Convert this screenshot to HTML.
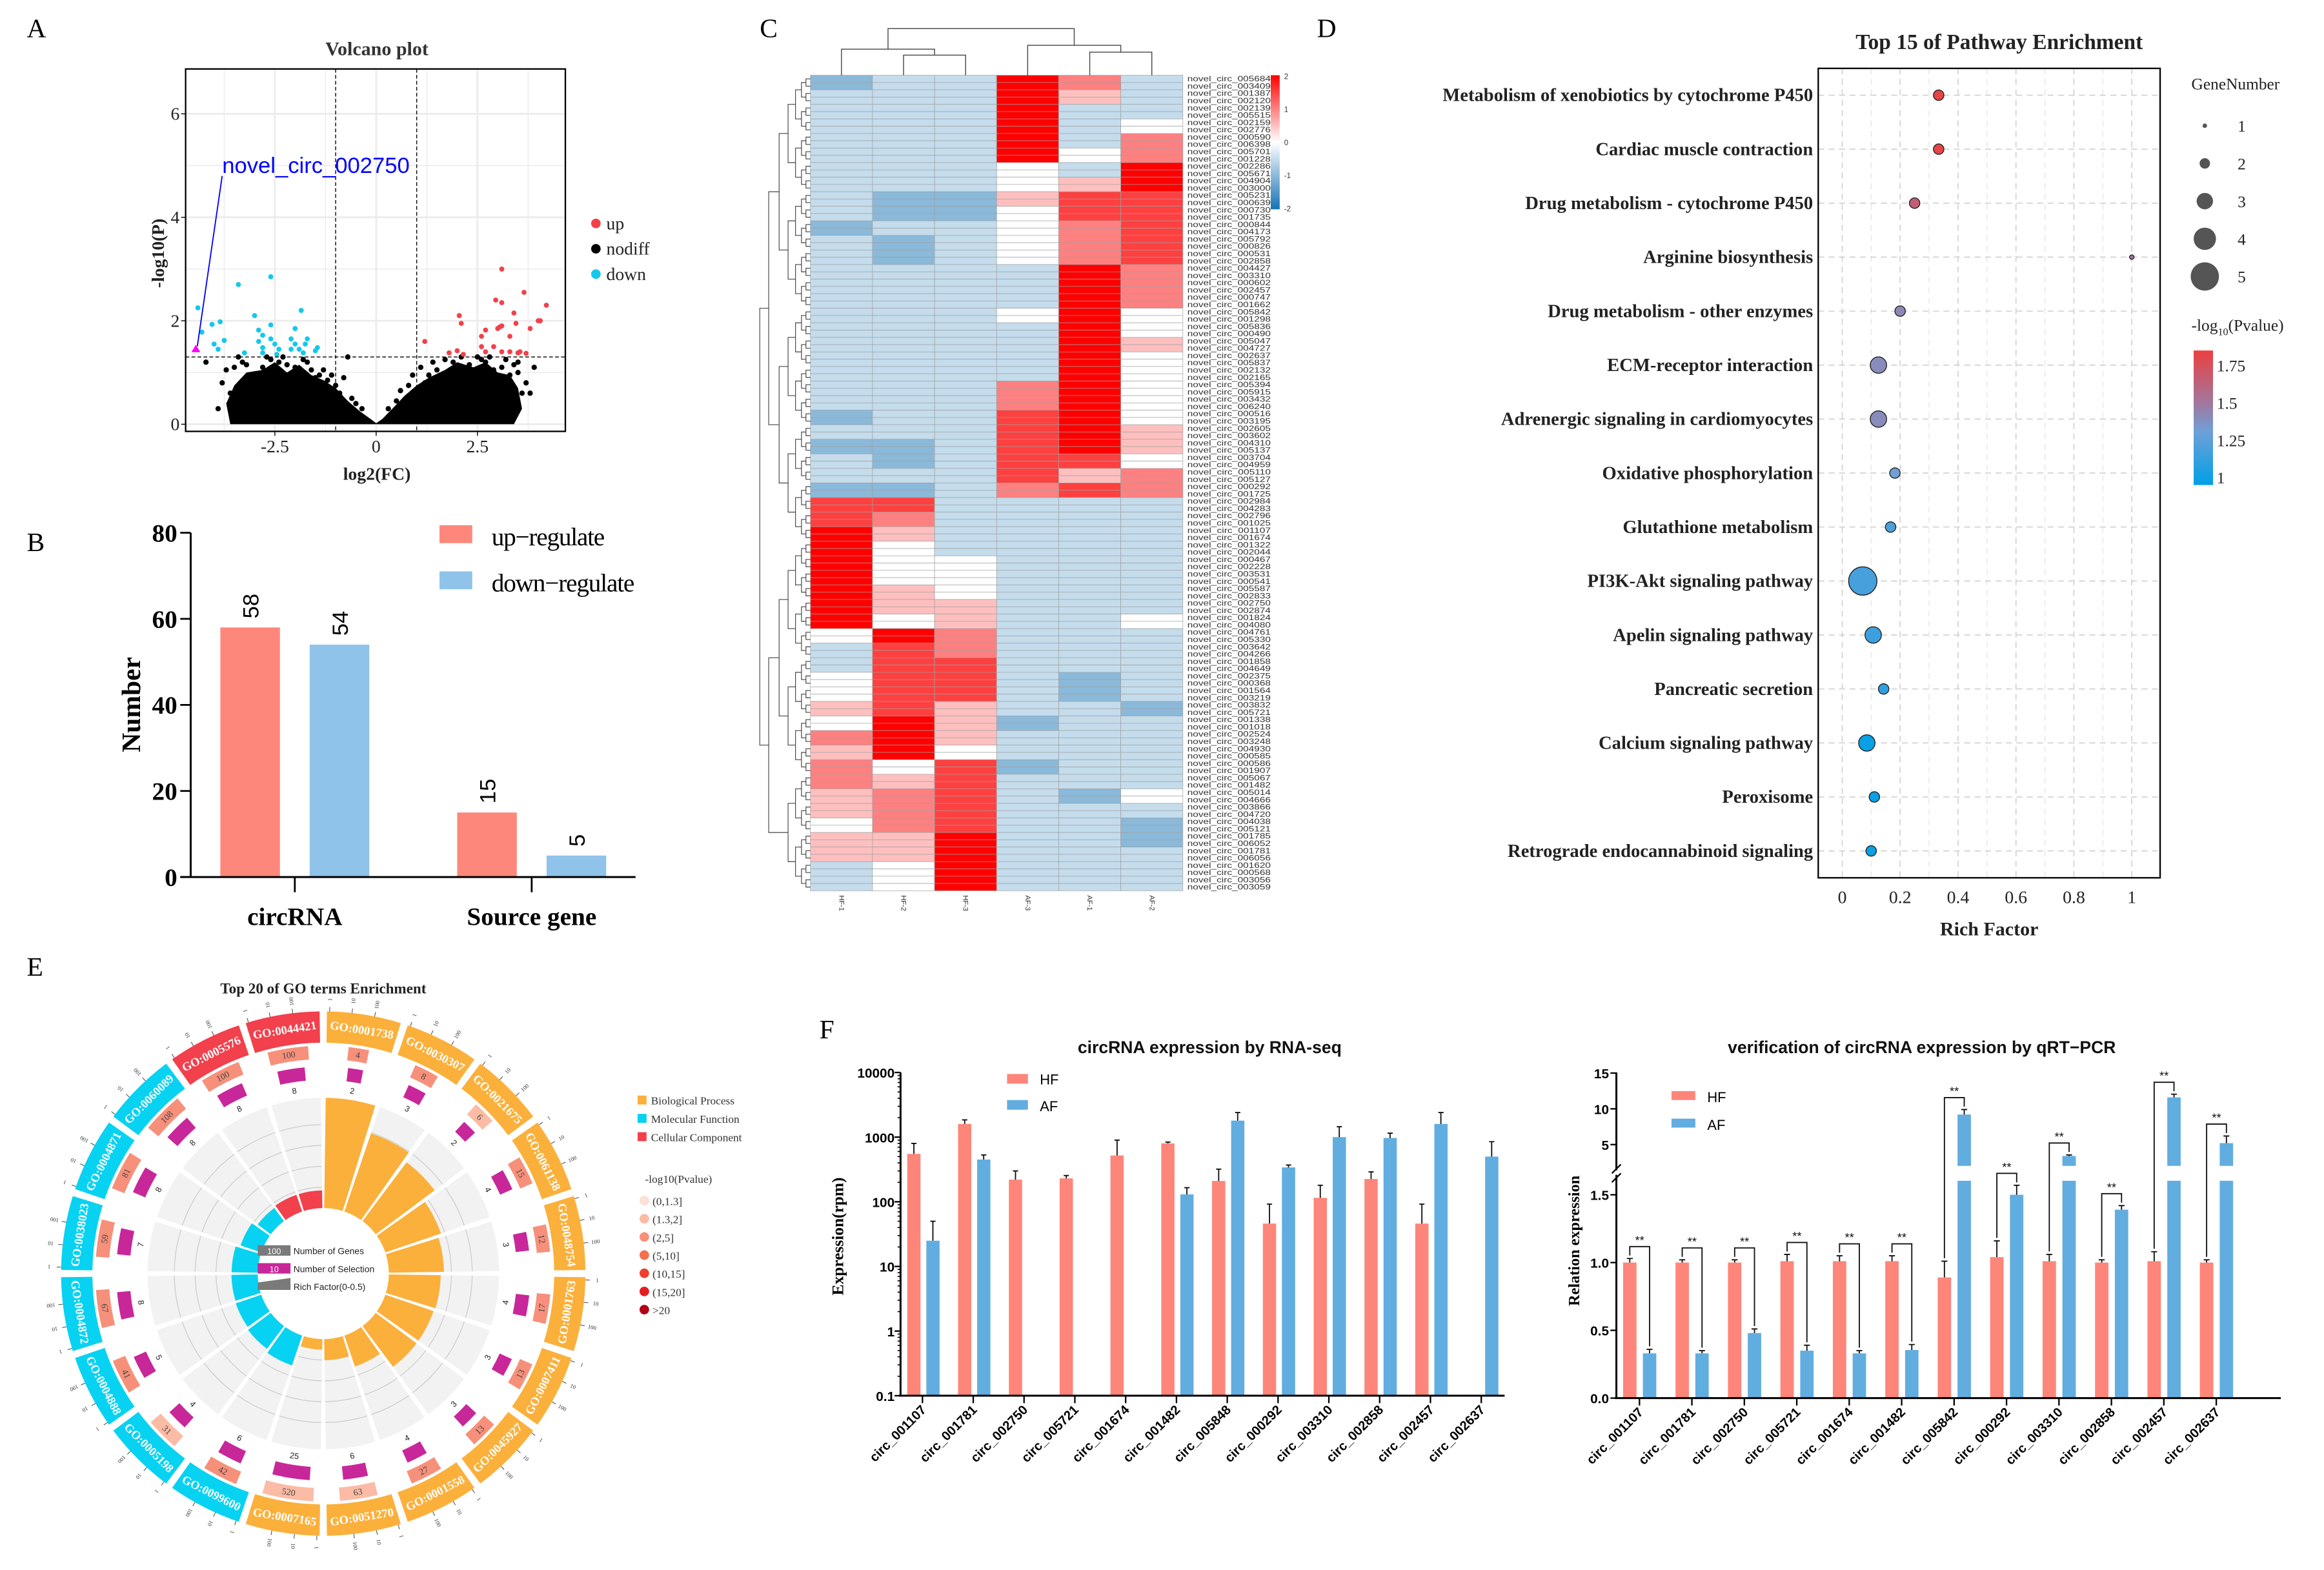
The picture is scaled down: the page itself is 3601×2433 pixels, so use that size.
<!DOCTYPE html>
<html><head><meta charset="utf-8"><title>circRNA figure</title>
<style>
html,body{margin:0;padding:0;background:#fff;}
svg{display:block;}
.serif{font-family:"Liberation Serif",serif;}
.sans{font-family:"Liberation Sans",sans-serif;}
</style></head>
<body>
<svg id="fig" xmlns="http://www.w3.org/2000/svg" width="3601" height="2433" viewBox="0 0 1560 1054">
<rect x="0" y="0" width="1560" height="1054" fill="#fff"/>
<g class="serif" font-size="18" fill="#000">
<text x="18" y="25">A</text>
<text x="18" y="370">B</text>
<text x="510" y="25">C</text>
<text x="884" y="25">D</text>
<text x="18" y="655">E</text>
<text x="550" y="697">F</text>
</g>
<text x="253" y="37" class="serif" font-size="13" font-weight="bold" fill="#333" text-anchor="middle">Volcano plot</text>
<text x="1342" y="33" class="serif" font-size="14.5" font-weight="bold" fill="#222" text-anchor="middle">Top 15 of Pathway Enrichment</text>
<text x="217" y="667" class="serif" font-size="10" font-weight="bold" fill="#222" text-anchor="middle">Top 20 of GO terms Enrichment</text>
<text x="812" y="707" class="sans" font-size="11.5" font-weight="bold" fill="#111" text-anchor="middle">circRNA expression by RNA-seq</text>
<text x="1290" y="707" class="sans" font-size="11.5" font-weight="bold" fill="#111" text-anchor="middle">verification of circRNA expression by qRT−PCR</text>
<g id="gA"></g><g id="gB"></g><g id="gC"></g><g id="gD"></g><g id="gE"></g><g id="gF1"></g><g id="gF2"></g>
</svg>
<script>
// ---------- DATA ----------
const upPts=[[1.2,1.6],[1.8,1.38],[2.0,1.42],[2.05,2.1],[2.1,1.95],[2.15,1.35],[2.6,1.7],[2.6,1.5],[2.7,1.82],[2.7,1.4],[2.9,1.5],[2.95,2.4],[3.0,1.85],[3.05,1.88],[3.1,1.9],[3.1,1.4],[3.1,3.0],[3.1,2.35],[3.3,1.7],[3.3,1.4],[3.4,2.15],[3.45,1.95],[3.5,1.38],[3.55,1.4],[3.65,2.55],[3.7,1.37],[3.8,1.85],[4.0,2.0],[4.05,2.0],[4.2,2.3]];
const downPts=[[-4.4,2.25],[-4.3,1.78],[-4.05,1.93],[-4.0,1.55],[-3.9,1.45],[-3.85,1.98],[-3.75,1.62],[-3.4,2.7],[-3.25,1.38],[-3.0,2.1],[-2.9,1.82],[-2.9,1.6],[-2.8,1.72],[-2.8,1.48],[-2.8,1.38],[-2.6,1.65],[-2.6,1.92],[-2.5,1.55],[-2.45,1.35],[-2.4,1.45],[-2.6,2.85],[-2.1,1.65],[-2.1,1.45],[-2.0,1.85],[-2.0,1.55],[-1.9,1.45],[-1.85,2.2],[-1.8,1.38],[-1.75,1.55],[-1.7,1.65],[-1.5,1.42],[-1.45,1.48]];
const hiPt=[-4.45,1.45];
const nodiffPts=[[-4.2,1.2],[-3.7,1.05],[-3.5,1.1],[-3.4,1.3],[-3.2,1.15],[-3.0,0.95],[-2.8,1.1],[-2.6,1.25],[-2.4,1.2],[-2.2,1.15],[-2.0,1.1],[-1.8,1.25],[-1.6,1.05],[-1.4,0.95],[-1.2,0.85],[-1.0,0.75],[-0.7,1.3],[-0.5,0.4],[-3.6,0.6],[-3.4,0.5],[-3.0,0.3],[0.3,0.3],[0.8,0.75],[1.1,1.1],[1.3,0.95],[1.5,1.05],[1.7,1.25],[1.9,1.2],[2.1,1.3],[2.3,1.15],[2.5,1.3],[2.7,1.2],[2.9,1.05],[3.1,1.1],[3.3,0.95],[3.5,1.0],[3.5,1.2],[3.7,0.8],[3.6,0.6],[3.4,0.5],[1.6,0.5],[-1.6,0.6],[-2.2,0.7],[2.2,0.75],[-3.3,1.2],[-3.1,0.8],[-2.7,1.3],[-2.5,1.0],[-2.3,1.3],[-1.9,1.0],[-1.7,1.2],[-1.5,0.9],[-1.3,1.05],[-1.1,0.95],[-0.9,0.6],[-0.6,0.5],[-0.35,0.3],[0.5,0.45],[0.6,0.65],[0.9,0.95],[1.2,0.8],[1.4,1.2],[1.8,1.0],[2.0,1.1],[2.4,1.0],[2.6,1.25],[2.8,1.3],[3.2,1.25],[3.4,1.15],[3.8,0.6],[3.9,1.1],[-3.8,0.8],[-3.9,0.3],[-0.8,0.9]];
const cloudPoly=[[-3.6,0],[-3.7,0.4],[-3.5,0.75],[-3.2,1.0],[-2.8,1.05],[-2.5,1.2],[-2.2,1.0],[-1.9,1.15],[-1.6,0.95],[-1.3,0.85],[-1.0,0.7],[-0.7,0.45],[-0.4,0.25],[-0.1,0.08],[0,0.02],[0.15,0.1],[0.4,0.3],[0.7,0.55],[1.0,0.75],[1.3,0.9],[1.7,1.05],[2.0,1.2],[2.4,1.1],[2.7,1.2],[3.0,1.0],[3.3,0.95],[3.5,0.7],[3.6,0.3],[3.4,0]];
const volXTicks=[-2.5,0,2.5];
const volYTicks=[0,2,4,6];
const barCats=["circRNA","Source gene"];
const barUp=[58,15];
const barDown=[54,5];
const barYTicks=[0,20,40,60,80];
const hmCols=["HF-1","HF-2","HF-3","AF-3","AF-1","AF-2"];
const hmRows=["233863","333853","333833","333834","333836","333846","333438","333458","322577","322477","233467","323467","323467","333386","333386","333386","333484","333384","333385","333384","333384","333684","333684","233784","333785","223785","323774","333756","223676","773333","763333","853333","843333","844333","844333","854333","855333","845334","486333","376333","377333","477323","477323","575332","485233","685333","584333","647233","657333","567324","567333","467332","558332","558333","348333","348333"];
const hmLabels=["005684","003409","001387","002120","002139","005515","002159","002776","000590","006398","005701","001228","002286","005671","004904","003000","005231","000639","000730","001735","000844","004173","005792","000826","000531","002858","004427","003310","000602","002457","000747","001662","005842","001298","005836","000490","005047","004727","002637","005837","002132","002165","005394","005915","003432","006240","000516","003195","002605","003602","004310","005137","003704","004959","005110","005127","000292","001725","002984","004283","002796","001025","001107","001674","001322","002044","000467","002228","003531","000541","005587","002833","002750","002874","001824","004080","004761","005330","003642","004266","001858","004649","002375","000368","001564","003219","003832","005721","001338","001018","002524","003248","004930","000585","000586","001907","005067","001482","005014","004666","003866","004720","004038","005121","001785","006052","001781","006056","001620","000568","003056","003059"];
const hmScale=[2,1,0,-1,-2];
const pwNames=["Metabolism of xenobiotics by cytochrome P450","Cardiac muscle contraction","Drug metabolism - cytochrome P450","Arginine biosynthesis","Drug metabolism - other enzymes","ECM-receptor interaction","Adrenergic signaling in cardiomyocytes","Oxidative phosphorylation","Glutathione metabolism","PI3K-Akt signaling pathway","Apelin signaling pathway","Pancreatic secretion","Calcium signaling pathway","Peroxisome","Retrograde endocannabinoid signaling"];
const pwRich=[0.333,0.333,0.25,1.0,0.2,0.125,0.125,0.182,0.167,0.071,0.107,0.143,0.085,0.111,0.1];
const pwGenes=[2,2,2,1,2,3,3,2,2,5,3,2,3,2,2];
const pwLogP=[1.82,1.82,1.65,1.5,1.42,1.4,1.4,1.32,1.2,1.18,1.15,1.1,0.98,0.98,0.98];
const pwXTicks=[0,0.2,0.4,0.6,0.8,1];
const pwSizeLegend=[1,2,3,4,5];
const pwColorTicks=[1.75,1.5,1.25,1];
const goIds=["GO:0001738","GO:0030307","GO:0021675","GO:0061138","GO:0048754","GO:0001763","GO:0007411","GO:0045927","GO:0001558","GO:0051270","GO:0007165","GO:0099600","GO:0005198","GO:0004888","GO:0004872","GO:0038023","GO:0004871","GO:0060089","GO:0005576","GO:0044421"];
const goCat=["BP","BP","BP","BP","BP","BP","BP","BP","BP","BP","BP","MF","MF","MF","MF","MF","MF","MF","CC","CC"];
const goGenes=[4,8,6,15,12,17,13,13,27,63,520,42,31,41,67,59,81,108,100,100];
const goSel=[2,3,2,4,3,4,3,3,4,6,25,6,4,5,8,7,8,8,8,8];
const goPbin=[2,2,1,2,2,2,2,2,2,1,1,2,1,2,2,2,2,2,2,2];
const goPLegend=["(0,1.3]","(1.3,2]","(2,5]","(5,10]","(10,15]","(15,20]",">20"];
const goCatLegend=["Biological Process","Molecular Function","Cellular Component"];
const fCats=["circ_001107","circ_001781","circ_002750","circ_005721","circ_001674","circ_001482","circ_005848","circ_000292","circ_003310","circ_002858","circ_002457","circ_002637"];
const seqHF=[550,1600,220,230,520,800,210,46,115,225,46,0];
const seqHFerr=[800,1850,300,255,900,840,320,92,180,290,92,0];
const seqAF=[25,450,0,0,0,130,1800,340,1000,970,1600,500];
const seqAFerr=[50,530,0,0,0,165,2400,370,1450,1150,2400,850];
const seqYTicks=[0.1,1,10,100,1000,10000];
const qCats=["circ_001107","circ_001781","circ_002750","circ_005721","circ_001674","circ_001482","circ_005842","circ_000292","circ_003310","circ_002858","circ_002457","circ_002637"];
const qHF=[1.0,1.0,1.0,1.01,1.01,1.01,0.89,1.04,1.01,1.0,1.01,1.0];
const qHFerr=[0.03,0.02,0.02,0.05,0.04,0.04,0.12,0.12,0.05,0.02,0.07,0.02];
const qAF=[0.33,0.33,0.48,0.35,0.33,0.355,9.2,1.5,3.4,1.39,11.6,5.2];
const qAFerr=[0.03,0.02,0.03,0.04,0.02,0.04,0.7,0.07,0.15,0.03,0.45,1.0];
const qYTicksLow=[0,0.5,1.0,1.5];
const qYTicksHigh=[5,10,15];

const NS='http://www.w3.org/2000/svg';
function mk(tag,attrs,parent,text){const e=document.createElementNS(NS,tag);for(const k in attrs)e.setAttribute(k,attrs[k]);if(text!==undefined)e.textContent=text;parent.appendChild(e);return e;}
const SERIF='"Liberation Serif",serif', SANS='"Liberation Sans",sans-serif';
let e;

// ---------- PANEL A ----------
(function(){
const g=document.getElementById('gA');
const xA=v=>252.5+v*27.2, yA=v=>284.8-v*34.73;
const L=124.6,R=379.5,T=46.3,B=289.6;
for(let v=-3.75;v<=3.76;v+=1.25){const x=xA(v); if(x<L||x>R)continue;
 e=mk('line',{x1:x,y1:T,x2:x,y2:B,stroke:'#ebebeb','stroke-width':Math.abs(v%2.5)<0.01?1.2:0.6},g);
 }
for(let v=0;v<=6.6;v+=1){const y=yA(v);
 e=mk('line',{x1:L,y1:y,x2:R,y2:y,stroke:'#ebebeb','stroke-width':v%2==0?1.2:0.6},g);
 }
e=mk('polygon',{points:cloudPoly.map(p=>xA(p[0])+','+yA(p[1])).join(' '),fill:'#000'},g);

nodiffPts.forEach(p=>{e=mk('circle',{cx:xA(p[0]),cy:yA(p[1]),r:1.8,fill:'#000'},g);
 });
upPts.forEach(p=>{e=mk('circle',{cx:xA(p[0]),cy:yA(p[1]),r:1.7,fill:'#f2414b'},g);
 });
downPts.forEach(p=>{e=mk('circle',{cx:xA(p[0]),cy:yA(p[1]),r:1.7,fill:'#14c8ec'},g);
 });
[-1,1].forEach(v=>{e=mk('line',{x1:xA(v),y1:T,x2:xA(v),y2:B,stroke:'#000','stroke-width':0.6,'stroke-dasharray':'2.5,1.5'},g);
 });
e=mk('line',{x1:L,y1:yA(1.3),x2:R,y2:yA(1.3),stroke:'#000','stroke-width':0.6,'stroke-dasharray':'2.5,1.5'},g);

const hx=xA(hiPt[0]),hy=yA(hiPt[1]);
e=mk('polygon',{points:`${hx},${hy-3} ${hx-3},${hy+2} ${hx+3},${hy+2}`,fill:'#ff00ff'},g);

e=mk('line',{x1:hx+1,y1:hy-2,x2:xA(-3.8),y2:yA(4.8),stroke:'#0000ff','stroke-width':0.8},g);

e=mk('text',{x:xA(-3.8),y:yA(4.8)-2,'font-family':'"Liberation Sans",sans-serif','font-size':15,fill:'#0000ff'},g,'novel_circ_002750');

e=mk('rect',{x:L,y:T,width:R-L,height:B-T,fill:'none',stroke:'#000','stroke-width':1},g);

volYTicks.forEach(v=>{e=mk('line',{x1:L-3,y1:yA(v),x2:L,y2:yA(v),stroke:'#000','stroke-width':0.6},g);
 
 e=mk('text',{x:L-4,y:yA(v)+4,'font-family':SERIF,'font-size':12,'text-anchor':'end',fill:'#222'},g,String(v));
 });
volXTicks.forEach(v=>{e=mk('line',{x1:xA(v),y1:B,x2:xA(v),y2:B+3,stroke:'#000','stroke-width':0.6},g);
 
 e=mk('text',{x:xA(v),y:B+14,'font-family':SERIF,'font-size':12,'text-anchor':'middle',fill:'#222'},g,String(v));
 });
e=mk('text',{x:253,y:322,'font-family':SERIF,'font-size':12,'font-weight':'bold','text-anchor':'middle',fill:'#222'},g,'log2(FC)');

e=mk('text',{x:0,y:0,'font-family':SERIF,'font-size':12,'font-weight':'bold','text-anchor':'middle',fill:'#222',transform:'translate(110,170) rotate(-90)'},g,'-log10(P)');

[['up','#f2414b'],['nodiff','#000'],['down','#14c8ec']].forEach((d,i)=>{
 e=mk('circle',{cx:400,cy:150+i*17,r:3.2,fill:d[1]},g);
 
 e=mk('text',{x:407,y:154+i*17,'font-family':SERIF,'font-size':12,fill:'#222'},g,d[0]);
 });
})();

// ---------- PANEL B ----------
(function(){
const g=document.getElementById('gB');
const yB=v=>588.8-v*2.889; const X0=128;
const catX=[197.9,356.9];
barCats.forEach((c,i)=>{
 e=mk('rect',{x:catX[i]-50,y:yB(barUp[i]),width:40,height:588.8-yB(barUp[i]),fill:'#fe877b'},g);
 
 e=mk('rect',{x:catX[i]+10,y:yB(barDown[i]),width:40,height:588.8-yB(barDown[i]),fill:'#8fc3ea'},g);
 
 [[catX[i]-30,barUp[i]],[catX[i]+30,barDown[i]]].forEach(p=>{
  e=mk('text',{x:0,y:0,'font-family':SANS,'font-size':15,'text-anchor':'start',fill:'#000',transform:`translate(${p[0]+5.5},${yB(p[1])-6}) rotate(-90)`},g,String(p[1]));
  });
 e=mk('line',{x1:catX[i],y1:588.8,x2:catX[i],y2:599,stroke:'#000','stroke-width':1.2},g);
 
 e=mk('text',{x:catX[i],y:621,'font-family':SERIF,'font-size':17,'font-weight':'bold','text-anchor':'middle',fill:'#000'},g,c);
 
});
e=mk('line',{x1:X0,y1:yB(80),x2:X0,y2:588.8,stroke:'#000','stroke-width':1.3},g);

e=mk('line',{x1:X0-7,y1:588.8,x2:426.6,y2:588.8,stroke:'#000','stroke-width':1.3},g);

barYTicks.forEach(v=>{e=mk('line',{x1:X0-7,y1:yB(v),x2:X0,y2:yB(v),stroke:'#000','stroke-width':1.2},g);
 
 e=mk('text',{x:X0-9,y:yB(v)+6,'font-family':SERIF,'font-size':17,'font-weight':'bold','text-anchor':'end',fill:'#000'},g,String(v));
 });
e=mk('text',{x:0,y:0,'font-family':SERIF,'font-size':18,'font-weight':'bold','text-anchor':'middle',fill:'#000',transform:'translate(94,473) rotate(-90)'},g,'Number');

e=mk('rect',{x:295,y:352.6,width:22,height:12,fill:'#fe877b'},g);

e=mk('text',{x:330,y:366,'font-family':SERIF,'font-size':17,fill:'#000','textLength':76},g,'up−regulate');

e=mk('rect',{x:295,y:383.6,width:22,height:12,fill:'#8fc3ea'},g);

e=mk('text',{x:330,y:397,'font-family':SERIF,'font-size':17,fill:'#000','textLength':96},g,'down−regulate');

})();

// ---------- PANEL C ----------
(function(){
const g=document.getElementById('gC');
const X0=544,X1=794,Y0=50.5,Y1=598;
const cw=(X1-X0)/hmCols.length, rh=(Y1-Y0)/hmRows.length;
function col(v){ if(v<0){const t=Math.min(1,-v/2);return `rgb(${Math.round(255-235*t)},${Math.round(255-140*t)},${Math.round(255-75*t)})`;}
 const t=Math.min(1,v/2);return `rgb(255,${Math.round(255-255*t)},${Math.round(255-255*t)})`;}
hmRows.forEach((row,r)=>{for(let c=0;c<hmCols.length;c++){const v=(parseInt(row[c])-4)/2;
 for(let s=0;s<2;s++){
 e=mk('rect',{x:X0+c*cw,y:Y0+r*rh+s*rh/2,width:cw,height:rh/2,fill:col(v),stroke:'#a0a0a0','stroke-width':0.3},g);
 }}});
const lh=(Y1-Y0)/hmLabels.length;
hmLabels.forEach((l,k)=>{
 e=mk('text',{x:X1+3,y:Y0+k*lh+lh*0.85,'font-family':SANS,'font-size':5.2,fill:'#333','textLength':56,'lengthAdjust':'spacingAndGlyphs'},g,'novel_circ_'+l);
 });
hmCols.forEach((c,i)=>{e=mk('text',{x:0,y:0,'font-family':SANS,'font-size':4.8,fill:'#333',transform:`translate(${X0+(i+0.5)*cw-1.5},${Y1+3}) rotate(90)`},g,c);
 });
const cx=i=>X0+(i+0.5)*cw;
const dpaths=[
 `M${cx(1)},${Y0} V37 H${cx(2)} V${Y0}`,
 `M${cx(0)},${Y0} V33 H${(cx(1)+cx(2))/2} V37`,
 `M${cx(4)},${Y0} V35 H${cx(5)} V${Y0}`,
 `M${cx(3)},${Y0} V30.4 H${(cx(4)+cx(5))/2} V35`,
 `M${(cx(0)+(cx(1)+cx(2))/2)/2},33 V19.2 H${(cx(3)+(cx(4)+cx(5))/2)/2} V30.4`];
dpaths.forEach(d=>{e=mk('path',{d:d,fill:'none',stroke:'#444','stroke-width':0.6},g);
 });
let nodes=hmLabels.map((_,r)=>({y:Y0+(r+0.5)*lh,x:X0}));
const levels=[541,538,534,529,523,516,510];
let li=0;
while(nodes.length>1){const nx=[];const lx=levels[Math.min(li,levels.length-1)]-(li>=levels.length?(li-levels.length+1)*3:0);
 for(let i=0;i<nodes.length;i+=2){ if(i+1<nodes.length){const a=nodes[i],b=nodes[i+1];
  e=mk('path',{d:`M${a.x},${a.y} H${lx} V${b.y} H${b.x}`,fill:'none',stroke:'#444','stroke-width':0.5},g);
  
  nx.push({x:lx,y:(a.y+b.y)/2});} else nx.push(nodes[i]); }
 nodes=nx;li++;}
const defs=mk('defs',{},g);
const lg=mk('linearGradient',{id:'hmgrad',x1:0,y1:0,x2:0,y2:1},defs);
[[0,2],[0.25,1],[0.5,0],[0.75,-1],[1,-2]].forEach(s=>mk('stop',{offset:s[0],'stop-color':col(s[1])},lg));
e=mk('rect',{x:853,y:50.5,width:6,height:90,fill:'url(#hmgrad)'},g);

hmScale.forEach((v,i)=>{e=mk('text',{x:862,y:53+i*22.2,'font-family':SANS,'font-size':5,fill:'#333'},g,String(v));
 });
})();

// ---------- PANEL D ----------
(function(){
const g=document.getElementById('gD');
const L=1220.5,R=1450,T=45.9,B=589.3;
const xD=v=>1236.6+v*194.4, yD=i=>63.9+i*36.24;
const rD=n=>1.5+(n-1)*2;
function pcol(p){const t=Math.max(0,Math.min(1,(p-0.95)/(1.85-0.95)));
 const stops=[[0,[0,160,230]],[0.4,[110,160,215]],[0.6,[160,120,160]],[1,[236,64,64]]];
 for(let k=1;k<stops.length;k++){if(t<=stops[k][0]){const a=stops[k-1],b=stops[k],u=(t-a[0])/(b[0]-a[0]);
  return `rgb(${a[1].map((c,j)=>Math.round(c+(b[1][j]-c)*u)).join(',')})`;}} return 'rgb(236,64,64)';}
pwXTicks.forEach(v=>{e=mk('line',{x1:xD(v),y1:T,x2:xD(v),y2:B,stroke:'#d0d0d0','stroke-width':0.7,'stroke-dasharray':'4,3'},g);
 
 e=mk('text',{x:xD(v),y:B+17,'font-family':SERIF,'font-size':12,'text-anchor':'middle',fill:'#222'},g,String(v));
 });
[0.1,0.3,0.5,0.7,0.9].forEach(v=>{e=mk('line',{x1:xD(v),y1:T,x2:xD(v),y2:B,stroke:'#e2e2e2','stroke-width':0.5,'stroke-dasharray':'4,3'},g);
 });
pwNames.forEach((n,i)=>{
 e=mk('line',{x1:L,y1:yD(i),x2:R,y2:yD(i),stroke:'#d0d0d0','stroke-width':0.7,'stroke-dasharray':'4,3'},g);
 
 e=mk('text',{x:1217,y:yD(i)+4,'font-family':SERIF,'font-size':12.4,'font-weight':'bold','text-anchor':'end',fill:'#222'},g,n);
 });
pwNames.forEach((n,i)=>{e=mk('circle',{cx:xD(pwRich[i]),cy:yD(i),r:rD(pwGenes[i]),fill:pcol(pwLogP[i]),stroke:'#222','stroke-width':0.6},g);
 });
e=mk('rect',{x:L,y:T,width:R-L,height:B-T,fill:'none',stroke:'#000','stroke-width':1},g);

e=mk('text',{x:(L+R)/2,y:628,'font-family':SERIF,'font-size':13,'font-weight':'bold','text-anchor':'middle',fill:'#222'},g,'Rich Factor');

e=mk('text',{x:1471,y:60,'font-family':SERIF,'font-size':11,fill:'#222'},g,'GeneNumber');

pwSizeLegend.forEach((n,i)=>{e=mk('circle',{cx:1480,cy:84.4+i*25.3,r:rD(n),fill:'#555'},g);
 
 e=mk('text',{x:1502,y:88.4+i*25.3,'font-family':SERIF,'font-size':11,fill:'#222'},g,String(n));
 });
e=mk('text',{x:1471,y:222,'font-family':SERIF,'font-size':11,fill:'#222'},g);

mk('tspan',{},e,'-log');mk('tspan',{'font-size':7,dy:3},e,'10');mk('tspan',{dy:-3},e,'(Pvalue)');
const defs=mk('defs',{},g);
const lg=mk('linearGradient',{id:'pwgrad',x1:0,y1:0,x2:0,y2:1},defs);
for(let k=0;k<=10;k++){mk('stop',{offset:k/10,'stop-color':pcol(1.85-k*0.09)},lg);}
e=mk('rect',{x:1472.5,y:235.3,width:13,height:90.3,fill:'url(#pwgrad)'},g);

pwColorTicks.forEach(v=>{const y=235.3+(1.85-v)/(0.9)*90.3;
 e=mk('text',{x:1488,y:y+4,'font-family':SERIF,'font-size':11,fill:'#222'},g,String(v));
 });
})();

// ---------- PANEL E ----------
(function(){
const g=document.getElementById('gE');
const CX=217,CY=855;
const catCol={BP:'#fbb03b',MF:'#08d2f1',CC:'#f2404c'};
const pCols=['#fde0d6','#fbbba4','#f7907a','#f4704e','#f0402d','#e51d1d','#b10014'];
const P=(r,a)=>[CX+r*Math.sin(a*Math.PI/180),CY-r*Math.cos(a*Math.PI/180)];
function arc(r1,r2,a1,a2){const p1=P(r2,a1),p2=P(r2,a2),p3=P(r1,a2),p4=P(r1,a1);const lf=(a2-a1)>180?1:0;
 return `M${p1} A${r2},${r2} 0 ${lf} 1 ${p2} L${p3} A${r1},${r1} 0 ${lf} 0 ${p4} Z`;}
const n=goIds.length, span=360/n;
const R0=44,R1=118;
goIds.forEach((id,i)=>{
 const a1=i*span+0.8,a2=(i+1)*span-0.8,am=(i+0.5)*span;
 e=mk('path',{d:arc(R0,R1,a1,a2),fill:'#f2f2f2'},g);
 
 [58,72,86,100].forEach(r=>{const p1=P(r,a1),p2=P(r,a2);
  e=mk('path',{d:`M${p1} A${r},${r} 0 0 1 ${p2}`,fill:'none',stroke:'#c8c8c8','stroke-width':0.5},g);
  });
 const rf=goSel[i]/goGenes[i];
 e=mk('path',{d:arc(R0,R0+Math.min(rf,0.5)/0.5*(R1-R0),a1,a2),fill:catCol[goCat[i]]},g);
 
 e=mk('path',{d:arc(155,176,a1,a2),fill:catCol[goCat[i]]},g);
 
 const tp=P(165.5,am); const rot=(am>90&&am<270)?am-180:am;
 e=mk('text',{x:0,y:0,'font-family':SERIF,'font-size':8,'font-weight':'bold',fill:'#fff','text-anchor':'middle','dominant-baseline':'central',transform:`translate(${tp[0]},${tp[1]}) rotate(${rot})`},g,id);
 
 [['1',a1+0.6],['10',a1+5.5],['100',a1+10.5]].forEach(t=>{const q1=P(176,t[1]),q2=P(179,t[1]),q3=P(184,t[1]);
  e=mk('line',{x1:q1[0],y1:q1[1],x2:q2[0],y2:q2[1],stroke:'#333','stroke-width':0.4},g);
  
  e=mk('text',{x:0,y:0,'font-family':SERIF,'font-size':3.8,fill:'#333','text-anchor':'middle','dominant-baseline':'central',transform:`translate(${q3[0]},${q3[1]}) rotate(${t[1]-90})`},g,t[0]);
  });
 const gw=3+Math.log10(goGenes[i])/3*11;
 e=mk('path',{d:arc(144,153,am-gw/2,am+gw/2),fill:pCols[goPbin[i]]},g);
 
 const gp=P(148.5,am);
 e=mk('text',{x:0,y:0,'font-family':SERIF,'font-size':6,fill:'#444','text-anchor':'middle','dominant-baseline':'central',transform:`translate(${gp[0]},${gp[1]}) rotate(${rot})`},g,String(goGenes[i]));
 
 const sw=2.5+Math.log10(goSel[i])/1.4*8;
 e=mk('path',{d:arc(130,139,am-sw/2,am+sw/2),fill:'#c8279a'},g);
 
 const sp=P(124,am);
 e=mk('text',{x:0,y:0,'font-family':SANS,'font-size':5.5,fill:'#222','text-anchor':'middle','dominant-baseline':'central',transform:`translate(${sp[0]},${sp[1]}) rotate(${rot})`},g,String(goSel[i]));
 
});
e=mk('rect',{x:173,y:836,width:22,height:7,fill:'#7a7a7a'},g);

e=mk('text',{x:184,y:842,'font-family':SANS,'font-size':5.5,fill:'#fff','text-anchor':'middle'},g,'100');

e=mk('text',{x:197,y:842,'font-family':SANS,'font-size':6,fill:'#222'},g,'Number of Genes');

e=mk('rect',{x:173,y:848,width:22,height:7,fill:'#c8279a'},g);

e=mk('text',{x:184,y:854,'font-family':SANS,'font-size':5.5,fill:'#fff','text-anchor':'middle'},g,'10');

e=mk('text',{x:197,y:854,'font-family':SANS,'font-size':6,fill:'#222'},g,'Number of Selection');

e=mk('path',{d:'M173,861 L195,858 L195,866 L173,866 Z',fill:'#7a7a7a'},g);

e=mk('text',{x:197,y:866,'font-family':SANS,'font-size':6,fill:'#222'},g,'Rich Factor(0-0.5)');

[['#fbb03b',0],['#08d2f1',1],['#f2404c',2]].forEach(d=>{
 e=mk('rect',{x:428,y:735.5+d[1]*12.3,width:6,height:6,fill:d[0]},g);
 
 e=mk('text',{x:437,y:741.5+d[1]*12.3,'font-family':SERIF,'font-size':7.5,fill:'#333'},g,goCatLegend[d[1]]);
 });
e=mk('text',{x:433,y:794,'font-family':SERIF,'font-size':7.5,fill:'#333'},g,'-log10(Pvalue)');

goPLegend.forEach((t,i)=>{e=mk('circle',{cx:432.5,cy:806+i*12.2,r:3.2,fill:pCols[i]},g);
 
 e=mk('text',{x:438,y:809+i*12.2,'font-family':SERIF,'font-size':7.5,fill:'#333'},g,t);
 });
})();

// ---------- PANEL F1 ----------
(function(){
const g=document.getElementById('gF1');
const X0=604.5,X1=1010,yL=v=>937-(Math.log10(v)+1)*43.4;
const cx=i=>619.2+i*34.1;
fCats.forEach((c,i)=>{
 if(seqHF[i]>0){e=mk('rect',{x:cx(i)-10.2,y:yL(seqHF[i]),width:8.9,height:937-yL(seqHF[i]),fill:'#fe857a'},g);
  
  e=mk('path',{d:`M${cx(i)-5.75},${yL(seqHF[i])} V${yL(seqHFerr[i])} M${cx(i)-7.5},${yL(seqHFerr[i])} H${cx(i)-4}`,stroke:'#111','stroke-width':0.8,fill:'none'},g);
  }
 if(seqAF[i]>0){e=mk('rect',{x:cx(i)+2.6,y:yL(seqAF[i]),width:8.9,height:937-yL(seqAF[i]),fill:'#61ade0'},g);
  
  e=mk('path',{d:`M${cx(i)+7},${yL(seqAF[i])} V${yL(seqAFerr[i])} M${cx(i)+5.3},${yL(seqAFerr[i])} H${cx(i)+8.8}`,stroke:'#111','stroke-width':0.8,fill:'none'},g);
  }
 e=mk('line',{x1:cx(i),y1:937,x2:cx(i),y2:942,stroke:'#000','stroke-width':1},g);
 
 e=mk('text',{x:0,y:0,'font-family':SANS,'font-size':8.8,'font-weight':'bold','text-anchor':'end',fill:'#000',transform:`translate(${cx(i)+3},${947}) rotate(-45)`},g,c);
 
});
e=mk('line',{x1:X0,y1:720,x2:X0,y2:937,stroke:'#000','stroke-width':1.3},g);

e=mk('line',{x1:X0-1,y1:937,x2:X1,y2:937,stroke:'#000','stroke-width':1.3},g);

seqYTicks.forEach((v,k)=>{e=mk('line',{x1:X0-4,y1:yL(v),x2:X0,y2:yL(v),stroke:'#000','stroke-width':1},g);
 
 e=mk('text',{x:X0-4,y:yL(v)+3.5,'font-family':SANS,'font-size':9,'font-weight':'bold','text-anchor':'end',fill:'#000'},g,String(v));
 
 if(k<seqYTicks.length-1){for(let m=2;m<=9;m++){const y=yL(v*m);
  e=mk('line',{x1:X0-2,y1:y,x2:X0,y2:y,stroke:'#000','stroke-width':0.7},g);
  }}});
e=mk('text',{x:0,y:0,'font-family':SERIF,'font-size':11,'font-weight':'bold','text-anchor':'middle',fill:'#000',transform:'translate(566,830) rotate(-90)'},g,'Expression(rpm)');

e=mk('rect',{x:676,y:721,width:14,height:6.5,fill:'#fe857a'},g);

e=mk('text',{x:698,y:728,'font-family':SANS,'font-size':9.5,fill:'#000'},g,'HF');

e=mk('rect',{x:676,y:738.5,width:14,height:6.5,fill:'#61ade0'},g);

e=mk('text',{x:698,y:746,'font-family':SANS,'font-size':9.5,fill:'#000'},g,'AF');

})();

// ---------- PANEL F2 ----------
(function(){
const g=document.getElementById('gF2');
const X0=1085,X1=1531,Y0=938.6;
const yR=v=>v<=1.65?Y0-v*91:768.4-(v-5)*4.8;
const cx=i=>1100.5+i*35.2;
const BRK_LO=792.7,BRK_HI=782.7;
function bar(x,v,fill,name){
 if(v<=1.6){e=mk('rect',{x:x,y:yR(v),width:9,height:Y0-yR(v),fill:fill},g);
  }
 else{e=mk('rect',{x:x,y:BRK_LO,width:9,height:Y0-BRK_LO,fill:fill},g);
  
  e=mk('rect',{x:x,y:yR(v),width:9,height:BRK_HI-yR(v),fill:fill},g);
  }}
qCats.forEach((c,i)=>{
 bar(cx(i)-11,qHF[i],'#fe857a','qpcr-bar-hf');
 bar(cx(i)+2.3,qAF[i],'#61ade0','qpcr-bar-af');
 const hx=cx(i)-6.5, ax=cx(i)+6.8;
 const ht=yR(qHF[i]+qHFerr[i]), at=yR(qAF[i]+qAFerr[i]);
 e=mk('path',{d:`M${hx},${yR(qHF[i])} V${ht} M${hx-2},${ht} H${hx+2}`,stroke:'#111','stroke-width':0.8,fill:'none'},g);
 
 e=mk('path',{d:`M${ax},${yR(qAF[i])} V${at} M${ax-2},${at} H${ax+2}`,stroke:'#111','stroke-width':0.8,fill:'none'},g);
 
 const top=Math.min(ht,at)-8;
 e=mk('path',{d:`M${hx},${ht-2} V${top} H${ax} V${at-2}`,stroke:'#111','stroke-width':0.8,fill:'none'},g);
 
 e=mk('text',{x:(hx+ax)/2,y:top-1.5,'font-family':SANS,'font-size':8,'text-anchor':'middle',fill:'#111'},g,'**');
 
 e=mk('line',{x1:cx(i),y1:Y0,x2:cx(i),y2:Y0+5,stroke:'#000','stroke-width':1},g);
 
 e=mk('text',{x:0,y:0,'font-family':SANS,'font-size':8.8,'font-weight':'bold','text-anchor':'end',fill:'#000',transform:`translate(${cx(i)+3},${Y0+10}) rotate(-45)`},g,c);
 
});
e=mk('line',{x1:X0,y1:BRK_LO-4,x2:X0,y2:Y0,stroke:'#000','stroke-width':1.3},g);

e=mk('line',{x1:X0,y1:720,x2:X0,y2:BRK_HI+3,stroke:'#000','stroke-width':1.3},g);

[BRK_HI+2,BRK_LO-2].forEach(y=>{e=mk('line',{x1:X0-3,y1:y+3,x2:X0+3,y2:y-3,stroke:'#000','stroke-width':1},g);
 });
e=mk('line',{x1:X0-1,y1:Y0,x2:X1,y2:Y0,stroke:'#000','stroke-width':1.3},g);

qYTicksLow.concat(qYTicksHigh).forEach(v=>{e=mk('line',{x1:X0-4,y1:yR(v),x2:X0,y2:yR(v),stroke:'#000','stroke-width':1},g);
 
 e=mk('text',{x:X0-5,y:yR(v)+3.5,'font-family':SANS,'font-size':9,'font-weight':'bold','text-anchor':'end',fill:'#000'},g,v>=5?String(v):v.toFixed(1));
 });
e=mk('text',{x:0,y:0,'font-family':SERIF,'font-size':10.5,'font-weight':'bold','text-anchor':'middle',fill:'#000',transform:'translate(1060,833) rotate(-90)'},g,'Relation expression');

e=mk('rect',{x:1122,y:732.5,width:16,height:6,fill:'#fe857a'},g);

e=mk('text',{x:1146,y:740,'font-family':SANS,'font-size':9.5,fill:'#000'},g,'HF');

e=mk('rect',{x:1122,y:751,width:16,height:6,fill:'#61ade0'},g);

e=mk('text',{x:1146,y:758.5,'font-family':SANS,'font-size':9.5,fill:'#000'},g,'AF');

})();
</script>
</body></html>
